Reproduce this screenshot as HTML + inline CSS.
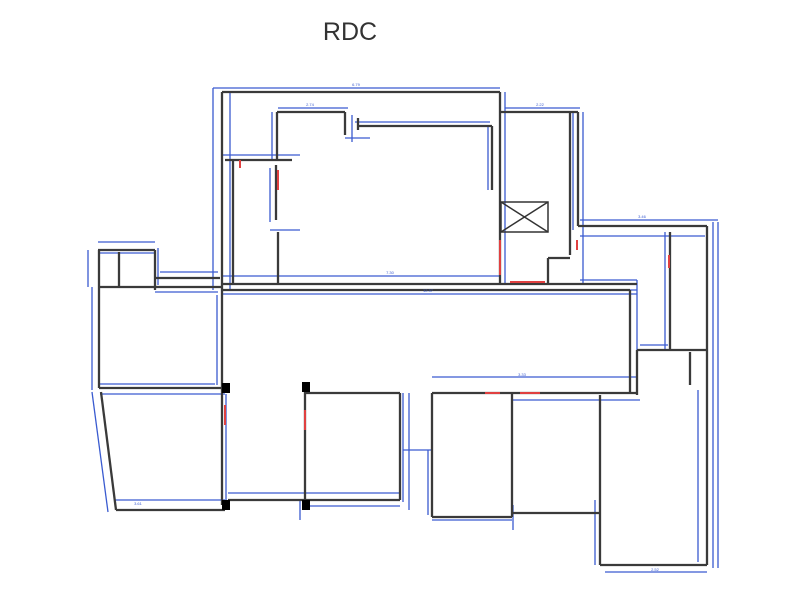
<!DOCTYPE html>
<html><head><meta charset="utf-8"><style>
html,body{margin:0;padding:0;background:#fff;}
svg{display:block}
text{font-family:"Liberation Sans",sans-serif;}
</style></head><body>
<svg width="800" height="594" viewBox="0 0 800 594" xmlns="http://www.w3.org/2000/svg">
<rect width="800" height="594" fill="#fff"/>
<text x="350" y="40" font-size="25" text-anchor="middle" fill="#333">RDC</text>
<g stroke="#3a5bd0" stroke-width="1.3" fill="none">
<line x1="213" y1="88" x2="500" y2="88"/>
<line x1="213" y1="88" x2="213" y2="290"/>
<line x1="230" y1="92" x2="230" y2="290"/>
<line x1="222" y1="155" x2="300" y2="155"/>
<line x1="278" y1="108" x2="348" y2="108"/>
<line x1="272" y1="112" x2="272" y2="160"/>
<line x1="355" y1="122" x2="490" y2="122"/>
<line x1="488" y1="126" x2="488" y2="190"/>
<line x1="270" y1="168" x2="270" y2="222"/>
<line x1="270" y1="230" x2="300" y2="230"/>
<line x1="222" y1="276" x2="500" y2="276"/>
<line x1="222" y1="294" x2="637" y2="294"/>
<line x1="505" y1="108" x2="580" y2="108"/>
<line x1="505" y1="92" x2="505" y2="285"/>
<line x1="573" y1="112" x2="573" y2="230"/>
<line x1="583" y1="112" x2="583" y2="285"/>
<line x1="580" y1="220" x2="718" y2="220"/>
<line x1="580" y1="236" x2="705" y2="236"/>
<line x1="713" y1="222" x2="713" y2="568"/>
<line x1="718" y1="222" x2="718" y2="568"/>
<line x1="698" y1="390" x2="698" y2="562"/>
<line x1="665" y1="232" x2="665" y2="350"/>
<line x1="630" y1="294" x2="630" y2="392"/>
<line x1="637" y1="280" x2="637" y2="395"/>
<line x1="640" y1="345" x2="668" y2="345"/>
<line x1="580" y1="280" x2="637" y2="280"/>
<line x1="500" y1="290" x2="637" y2="290"/>
<line x1="432" y1="377" x2="638" y2="377"/>
<line x1="512" y1="400" x2="600" y2="400"/>
<line x1="600" y1="400" x2="640" y2="400"/>
<line x1="432" y1="520" x2="512" y2="520"/>
<line x1="605" y1="572" x2="707" y2="572"/>
<line x1="595" y1="500" x2="595" y2="565"/>
<line x1="98" y1="242" x2="155" y2="242"/>
<line x1="98" y1="253" x2="155" y2="253"/>
<line x1="88" y1="250" x2="88" y2="287"/>
<line x1="92" y1="287" x2="92" y2="390"/>
<line x1="160" y1="272" x2="218" y2="272"/>
<line x1="155" y1="292" x2="218" y2="292"/>
<line x1="217" y1="295" x2="217" y2="385"/>
<line x1="100" y1="384" x2="215" y2="384"/>
<line x1="100" y1="394" x2="225" y2="394"/>
<line x1="92" y1="392" x2="108" y2="512"/>
<line x1="115" y1="500" x2="225" y2="500"/>
<line x1="226" y1="394" x2="226" y2="505"/>
<line x1="228" y1="493" x2="400" y2="493"/>
<line x1="305" y1="506" x2="400" y2="506"/>
<line x1="403" y1="393" x2="403" y2="502"/>
<line x1="409" y1="393" x2="409" y2="510"/>
<line x1="403" y1="450" x2="432" y2="450"/>
<line x1="428" y1="450" x2="428" y2="515"/>
<line x1="513" y1="505" x2="513" y2="530"/>
<line x1="300" y1="500" x2="300" y2="520"/>
<line x1="352" y1="115" x2="352" y2="142"/>
<line x1="345" y1="138" x2="370" y2="138"/>
<line x1="158" y1="248" x2="158" y2="285"/>
</g>
<g stroke="#3a3a3a" stroke-width="2.3" fill="none">
<line x1="222" y1="92" x2="500" y2="92"/>
<line x1="222" y1="92" x2="222" y2="290"/>
<line x1="500" y1="92" x2="500" y2="285"/>
<line x1="233" y1="160" x2="233" y2="284"/>
<line x1="225" y1="160" x2="292" y2="160"/>
<line x1="277" y1="112" x2="345" y2="112"/>
<line x1="277" y1="112" x2="277" y2="160"/>
<line x1="345" y1="112" x2="345" y2="135"/>
<line x1="358" y1="126" x2="492" y2="126"/>
<line x1="358" y1="118" x2="358" y2="130"/>
<line x1="492" y1="126" x2="492" y2="190"/>
<line x1="276" y1="165" x2="276" y2="220"/>
<line x1="278" y1="232" x2="278" y2="284"/>
<line x1="222" y1="284" x2="637" y2="284"/>
<line x1="222" y1="290" x2="630" y2="290"/>
<line x1="500" y1="112" x2="578" y2="112"/>
<line x1="578" y1="112" x2="578" y2="226"/>
<line x1="570" y1="112" x2="570" y2="255"/>
<line x1="578" y1="226" x2="707" y2="226"/>
<line x1="670" y1="232" x2="670" y2="350"/>
<line x1="707" y1="226" x2="707" y2="565"/>
<line x1="637" y1="350" x2="707" y2="350"/>
<line x1="690" y1="352" x2="690" y2="385"/>
<line x1="637" y1="350" x2="637" y2="395"/>
<line x1="630" y1="290" x2="630" y2="392"/>
<line x1="548" y1="258" x2="548" y2="284"/>
<line x1="548" y1="258" x2="570" y2="258"/>
<line x1="432" y1="393" x2="637" y2="393"/>
<line x1="432" y1="393" x2="432" y2="517"/>
<line x1="432" y1="517" x2="512" y2="517"/>
<line x1="512" y1="393" x2="512" y2="517"/>
<line x1="512" y1="513" x2="600" y2="513"/>
<line x1="600" y1="395" x2="600" y2="565"/>
<line x1="600" y1="565" x2="707" y2="565"/>
<line x1="98" y1="250" x2="155" y2="250"/>
<line x1="99" y1="250" x2="99" y2="388"/>
<line x1="119" y1="252" x2="119" y2="287"/>
<line x1="155" y1="250" x2="155" y2="290"/>
<line x1="155" y1="278" x2="220" y2="278"/>
<line x1="99" y1="287" x2="222" y2="287"/>
<line x1="99" y1="388" x2="225" y2="388"/>
<line x1="101" y1="392" x2="116" y2="510"/>
<line x1="116" y1="510" x2="225" y2="510"/>
<line x1="222" y1="290" x2="222" y2="505"/>
<line x1="228" y1="500" x2="400" y2="500"/>
<line x1="305" y1="393" x2="400" y2="393"/>
<line x1="305" y1="388" x2="305" y2="505"/>
<line x1="400" y1="393" x2="400" y2="500"/>
</g>
<g stroke="#333" stroke-width="1.5" fill="none">
<rect x="501" y="202" width="47" height="30"/>
<line x1="501" y1="202" x2="548" y2="232"/>
<line x1="548" y1="202" x2="501" y2="232"/>
</g>
<g stroke="#e04040" stroke-width="2">
<line x1="278" y1="170" x2="278" y2="190"/>
<line x1="240" y1="160" x2="240" y2="168"/>
<line x1="500" y1="240" x2="500" y2="275"/>
<line x1="510" y1="282" x2="545" y2="282"/>
<line x1="669" y1="255" x2="669" y2="268"/>
<line x1="225" y1="405" x2="225" y2="425"/>
<line x1="305" y1="410" x2="305" y2="430"/>
<line x1="485" y1="393" x2="500" y2="393"/>
<line x1="520" y1="393" x2="540" y2="393"/>
<line x1="577" y1="240" x2="577" y2="250"/>
</g>
<g fill="#000">
<rect x="222" y="383" width="8" height="10"/>
<rect x="302" y="382" width="8" height="10"/>
<rect x="222" y="500" width="8" height="10"/>
<rect x="302" y="500" width="8" height="10"/>
</g>
<g font-size="4" fill="#3a5bd0" text-anchor="middle">
<text x="356" y="86">6.79</text>
<text x="428" y="292">12.37</text>
<text x="390" y="274">7.30</text>
<text x="138" y="505">3.61</text>
<text x="522" y="376">3.33</text>
<text x="655" y="571">2.52</text>
<text x="642" y="218">3.46</text>
<text x="540" y="106">2.22</text>
<text x="310" y="106">2.74</text>
</g>
</svg>
</body></html>
